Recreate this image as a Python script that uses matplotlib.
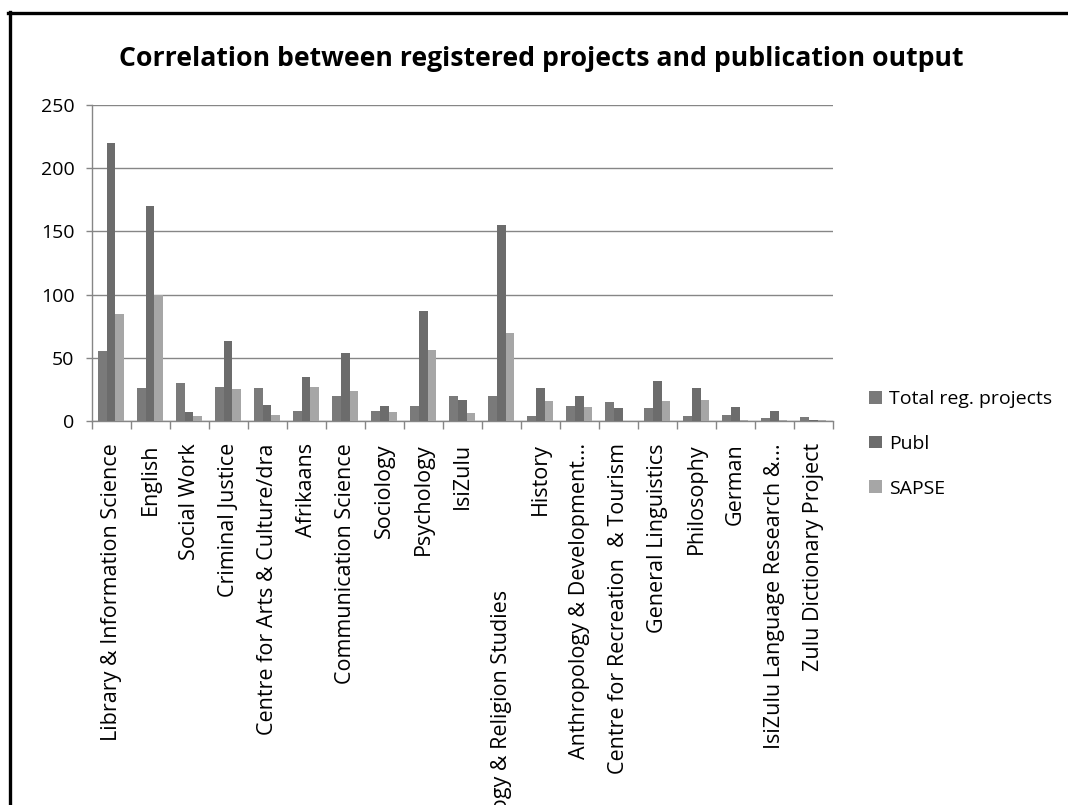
import matplotlib
matplotlib.use("Agg")
import matplotlib.pyplot as plt
from matplotlib.lines import Line2D
import numpy as np

departments = [
    "Library & Information Science",
    "English",
    "Social Work",
    "Criminal Justice",
    "Centre for Arts & Culture/dra",
    "Afrikaans",
    "Communication Science",
    "Sociology",
    "Psychology",
    "IsiZulu",
    "Theology & Religion Studies" + " " * 26,
    "History",
    "Anthropology & Development...",
    "Centre for Recreation  & Tourism",
    "General Linguistics",
    "Philosophy",
    "German",
    "IsiZulu Language Research &...",
    "Zulu Dictionary Project",
]

total_reg_projects = [55, 26, 30, 27, 26, 8, 20, 8, 12, 20, 20, 4, 12, 15, 10, 4, 5, 2, 3]
publ = [220, 170, 7, 63, 13, 35, 54, 12, 87, 17, 155, 26, 20, 10, 32, 26, 11, 8, 1]
sapse = [85, 100, 4, 25, 5, 27, 24, 7, 56, 6, 70, 16, 11, 0, 16, 17, 1, 1, 1]

series_names = ["Total reg. projects", "Publ", "SAPSE"]
series_colors = ["#7a7a7a", "#6c6c6c", "#a6a6a6"]
y_ticks = [0, 50, 100, 150, 200, 250]

plt.rcParams["font.family"] = ["Open Sans", "DejaVu Sans"]

W, H = 1068, 805
fig = plt.figure(figsize=(W / 100, H / 100), dpi=100)
fig.patch.set_facecolor("white")

ax_left, ax_right, ax_top, ax_bottom = 91.5, 833, 105, 421
ax = fig.add_axes([ax_left / W, (H - ax_bottom) / H,
                   (ax_right - ax_left) / W, (ax_bottom - ax_top) / H])

n = len(departments)
x = np.arange(n)
bar_w = 1 / 4.5
for j, (vals, name, col) in enumerate(zip([total_reg_projects, publ, sapse],
                                          series_names, series_colors)):
    ax.bar(x + (j - 1) * bar_w, vals, width=bar_w, color=col, label=name,
           linewidth=0, zorder=3)

axis_grey = "#868686"
ax.set_xlim(-0.5, n - 0.5)
ax.set_ylim(0, 250)
ax.set_yticks(y_ticks)
ax.yaxis.grid(True, color=axis_grey, linewidth=1.0, zorder=0)
ax.set_axisbelow(True)

for side in ("top", "right"):
    ax.spines[side].set_visible(False)
for side in ("left", "bottom"):
    ax.spines[side].set_color(axis_grey)
    ax.spines[side].set_linewidth(1.0)

ax.tick_params(axis="y", length=4.3, width=1.0, color=axis_grey, pad=8,
               labelsize=14, labelcolor="black")
ax.set_xticks(x)
ax.set_xticklabels(departments, rotation=90, ha="center", va="top",
                   fontsize=15.5)
ax.tick_params(axis="x", which="major", length=0, pad=16)
ax.set_xticks(np.arange(n + 1) - 0.5, minor=True)
ax.tick_params(axis="x", which="minor", length=6, width=1.0, color=axis_grey)

fig.text(0.507, (H - 59) / H, "Correlation between registered projects and publication output",
         ha="center", va="center", fontsize=19.2, fontweight="bold")

ax.legend(loc="upper left", bbox_to_anchor=(869 / W, (H - 390) / H),
          bbox_transform=fig.transFigure, frameon=False, fontsize=14,
          handlelength=0.65, handleheight=0.65, handletextpad=0.4,
          labelspacing=1.38, borderaxespad=0, borderpad=0)

# outer chart frame (top and left edges)
fig.add_artist(Line2D([8 / W, 1.0], [(H - 13.5) / H, (H - 13.5) / H],
                      transform=fig.transFigure, color="black", linewidth=2.4))
fig.add_artist(Line2D([9.5 / W, 9.5 / W], [0, (H - 12.5) / H],
                      transform=fig.transFigure, color="black", linewidth=2.4))

fig.savefig("out.png", dpi=100, facecolor="white")
